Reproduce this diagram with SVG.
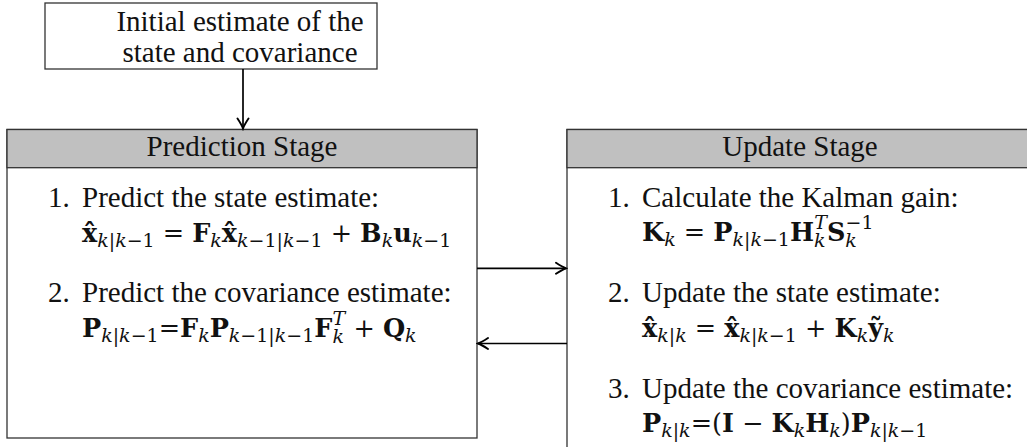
<svg xmlns="http://www.w3.org/2000/svg" width="1027" height="447" viewBox="0 0 1027 447">
<defs>
<style>
text{font-family:"Liberation Serif","Times New Roman",serif;font-size:29px;fill:#111;}
.c{text-anchor:middle;}
.m{font-family:"DejaVu Serif","Liberation Serif",serif;font-size:25.5px;}
.b{font-weight:bold;}
.i{font-style:italic;font-weight:normal;}
.sub{font-size:19px;baseline-shift:-5px;font-weight:normal;}
.sub2{font-size:19px;baseline-shift:-6px;font-weight:normal;}
.sup{font-size:19px;baseline-shift:12px;font-weight:normal;}
.box{fill:#fff;stroke:#333;stroke-width:1.3;}
.hdr{fill:#c0c0c0;stroke:#333;stroke-width:1.3;}
.conn{stroke:#000;stroke-width:1.7;fill:none;}
</style>
<marker id="arr" viewBox="-12 -7 14 14" refX="0" refY="0" markerWidth="14" markerHeight="14" markerUnits="userSpaceOnUse" orient="auto">
<path d="M-10,-5.5 Q-3.5,-1.2 0,0 Q-3.5,1.2 -10,5.5" fill="none" stroke="#000" stroke-width="1.9" stroke-linecap="round"/>
</marker>
</defs>

<g id="init">
<rect class="box" x="45" y="3" width="332" height="66"/>
<text class="c" x="240" y="31">Initial estimate of the</text>
<text class="c" x="240" y="62">state and covariance</text>
</g>

<g id="prediction">
<rect class="box" x="7" y="129.5" width="470" height="308.5"/>
<rect class="hdr" x="7" y="129.5" width="470" height="38.2"/>
<text class="c" x="242" y="156">Prediction Stage</text>
<text x="48" y="207">1.</text>
<text x="82" y="207">Predict the state estimate:</text>
<text class="m" x="82" y="242"><tspan class="b">x̂</tspan><tspan class="sub"><tspan class="i">k</tspan>|<tspan class="i">k</tspan>−1</tspan> = <tspan class="b">F</tspan><tspan class="sub"><tspan class="i">k</tspan></tspan><tspan class="b">x̂</tspan><tspan class="sub"><tspan class="i">k</tspan>−1|<tspan class="i">k</tspan>−1</tspan> + <tspan class="b">B</tspan><tspan class="sub"><tspan class="i">k</tspan></tspan><tspan class="b">u</tspan><tspan class="sub"><tspan class="i">k</tspan>−1</tspan></text>
<text x="48" y="302">2.</text>
<text x="82" y="302">Predict the covariance estimate:</text>
<text class="m" x="82" y="337"><tspan class="b">P</tspan><tspan class="sub"><tspan class="i">k</tspan>|<tspan class="i">k</tspan>−1</tspan>=<tspan class="b">F</tspan><tspan class="sub"><tspan class="i">k</tspan></tspan><tspan class="b">P</tspan><tspan class="sub"><tspan class="i">k</tspan>−1|<tspan class="i">k</tspan>−1</tspan><tspan class="b">F</tspan><tspan class="sub2"><tspan class="i">k</tspan></tspan><tspan class="sup" dx="-11.3"><tspan class="i">T</tspan></tspan> + <tspan class="b">Q</tspan><tspan class="sub"><tspan class="i">k</tspan></tspan></text>
</g>

<g id="update">
<rect class="box" x="567" y="129.5" width="470" height="330"/>
<rect class="hdr" x="567" y="129.5" width="470" height="38.2"/>
<text class="c" x="800" y="156">Update Stage</text>
<text x="608" y="207">1.</text>
<text x="642" y="207">Calculate the Kalman gain:</text>
<text class="m" x="642" y="241"><tspan class="b">K</tspan><tspan class="sub"><tspan class="i">k</tspan></tspan> = <tspan class="b">P</tspan><tspan class="sub"><tspan class="i">k</tspan>|<tspan class="i">k</tspan>−1</tspan><tspan class="b">H</tspan><tspan class="sub2"><tspan class="i">k</tspan></tspan><tspan class="sup" dx="-11.3"><tspan class="i">T</tspan></tspan><tspan class="b">S</tspan><tspan class="sub2"><tspan class="i">k</tspan></tspan><tspan class="sup" dx="-11.3">−1</tspan></text>
<text x="608" y="302">2.</text>
<text x="642" y="302">Update the state estimate:</text>
<text class="m" x="642" y="337"><tspan class="b">x̂</tspan><tspan class="sub"><tspan class="i">k</tspan>|<tspan class="i">k</tspan></tspan> = <tspan class="b">x̂</tspan><tspan class="sub"><tspan class="i">k</tspan>|<tspan class="i">k</tspan>−1</tspan> + <tspan class="b">K</tspan><tspan class="sub"><tspan class="i">k</tspan></tspan><tspan class="b">ỹ</tspan><tspan class="sub"><tspan class="i">k</tspan></tspan></text>
<text x="608" y="398">3.</text>
<text x="642" y="398">Update the covariance estimate:</text>
<text class="m" x="642" y="432"><tspan class="b">P</tspan><tspan class="sub"><tspan class="i">k</tspan>|<tspan class="i">k</tspan></tspan>=(<tspan class="b">I</tspan> − <tspan class="b">K</tspan><tspan class="sub"><tspan class="i">k</tspan></tspan><tspan class="b">H</tspan><tspan class="sub"><tspan class="i">k</tspan></tspan>)<tspan class="b">P</tspan><tspan class="sub"><tspan class="i">k</tspan>|<tspan class="i">k</tspan>−1</tspan></text>
</g>

<g id="connectors">
<line class="conn" x1="243" y1="69" x2="243" y2="128.5" marker-end="url(#arr)"/>
<line class="conn" x1="477" y1="268.3" x2="566" y2="268.3" marker-end="url(#arr)"/>
<line class="conn" x1="567" y1="343.5" x2="478" y2="343.5" marker-end="url(#arr)"/>
</g>
</svg>
